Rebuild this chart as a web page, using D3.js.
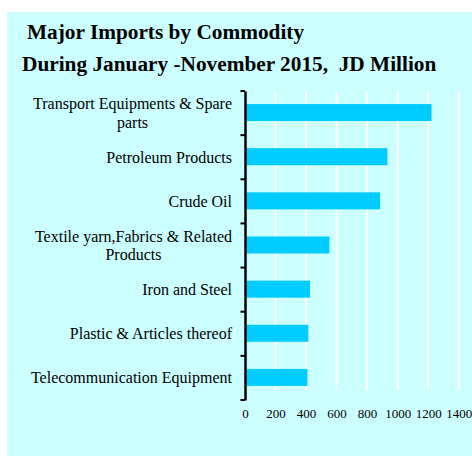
<!DOCTYPE html>
<html>
<head>
<meta charset="utf-8">
<script src="https://cdn.jsdelivr.net/npm/d3@7"></script>
<style>
  html, body { margin: 0; padding: 0; background: #ffffff; }
  svg { display: block; }
</style>
</head>
<body>
<svg id="chart" width="472" height="457"></svg>
<script>
// Major imports by commodity, Jan–Nov 2015 (JD million)
const categories = [
  "Transport Equipments & Spare parts",
  "Petroleum Products",
  "Crude Oil",
  "Textile yarn,Fabrics & Related Products",
  "Iron and Steel",
  "Plastic & Articles thereof",
  "Telecommunication Equipment"
];
const values = [1222, 933, 885, 553, 426, 415, 409];
const xTicks = [0, 200, 400, 600, 800, 1000, 1200, 1400];
const titleLines = ["Major Imports by Commodity", "During January -November 2015,  JD Million"];

const svg = d3.select("#chart");
const W = 472, H = 457;
const serif = "'Liberation Serif', 'Times New Roman', serif";

// panel background
svg.append("rect")
  .attr("x", 7).attr("y", 12)
  .attr("width", W - 7).attr("height", 444)
  .attr("fill", "#ccffff");

// titles
svg.append("text")
  .attr("x", 27).attr("y", 39)
  .attr("font-family", serif)
  .attr("font-weight", "bold").attr("font-size", 21.3)
  .attr("fill", "#000")
  .text(titleLines[0]);
svg.append("text")
  .attr("x", 22).attr("y", 71)
  .attr("font-family", serif)
  .attr("font-weight", "bold").attr("font-size", 21.3)
  .attr("fill", "#000")
  .style("white-space", "pre")
  .text(titleLines[1]);

const x = d3.scaleLinear().domain([0, 1400]).range([245, 458.7]);
const y = d3.scaleBand().domain(categories).range([91, 400]).paddingInner(0).paddingOuter(0);

// gridlines
svg.append("g")
  .selectAll("line")
  .data(xTicks.filter(t => t > 0))
  .join("line")
  .attr("x1", d => x(d)).attr("x2", d => x(d))
  .attr("y1", 91).attr("y2", 390)
  .attr("stroke", "#ffffff").attr("stroke-width", 2);

// bars
const barH = 17;
svg.append("g")
  .selectAll("rect")
  .data(categories)
  .join("rect")
  .attr("x", x(0) + 1)
  .attr("y", d => y(d) + y.bandwidth() / 2 - barH / 2 - 0.5)
  .attr("width", (d, i) => x(values[i]) - x(0) - 1)
  .attr("height", barH)
  .attr("fill", "#00ccff");

// category axis
const yAxis = d3.axisLeft(y).tickSizeInner(0).tickSizeOuter(0).tickFormat("");
const gy = svg.append("g").attr("transform", "translate(245,0)").call(yAxis);
gy.select(".domain").attr("stroke", "#000").attr("stroke-width", 2.5);
// boundary tick marks between categories
const bounds = categories.map(c => y(c)).concat([y.range()[1]]);
svg.append("g")
  .selectAll("line")
  .data(bounds)
  .join("line")
  .attr("x1", 240.5).attr("x2", 245)
  .attr("y1", d => d).attr("y2", d => d)
  .attr("stroke", "#000").attr("stroke-width", 2);

// category labels, wrapped and right-aligned as a block
const labelRight = 232, maxW = 204, lineH = 18.5, labelSize = 16;
const labels = svg.append("g");
categories.forEach(cat => {
  const words = cat.split(" ");
  const probe = labels.append("text").attr("font-family", serif).attr("font-size", labelSize);
  const lines = [];
  let cur = "";
  words.forEach(w => {
    const t = cur ? cur + " " + w : w;
    probe.text(t);
    if (probe.node().getComputedTextLength() > maxW && cur) {
      lines.push(cur); cur = w;
    } else cur = t;
  });
  lines.push(cur);
  const widths = lines.map(l => { probe.text(l); return probe.node().getComputedTextLength(); });
  probe.remove();
  const blockW = d3.max(widths);
  const cy = y(cat) + y.bandwidth() / 2;
  const cx = labelRight - blockW / 2;
  lines.forEach((l, i) => {
    labels.append("text")
      .attr("x", lines.length > 1 ? cx : labelRight)
      .attr("y", cy + (i - (lines.length - 1) / 2) * lineH + 5.5)
      .attr("text-anchor", lines.length > 1 ? "middle" : "end")
      .attr("font-family", serif).attr("font-size", labelSize)
      .attr("fill", "#000")
      .text(l);
  });
});

// value axis
const xAxis = d3.axisBottom(x).tickValues(xTicks).tickSize(0).tickPadding(0).tickFormat(d3.format("d"));
const gx = svg.append("g").attr("transform", "translate(0,409)").call(xAxis);
gx.select(".domain").remove();
gx.selectAll("text")
  .attr("font-family", serif).attr("font-size", 13)
  .attr("fill", "#000").attr("dy", "0.71em");
</script>
</body>
</html>
